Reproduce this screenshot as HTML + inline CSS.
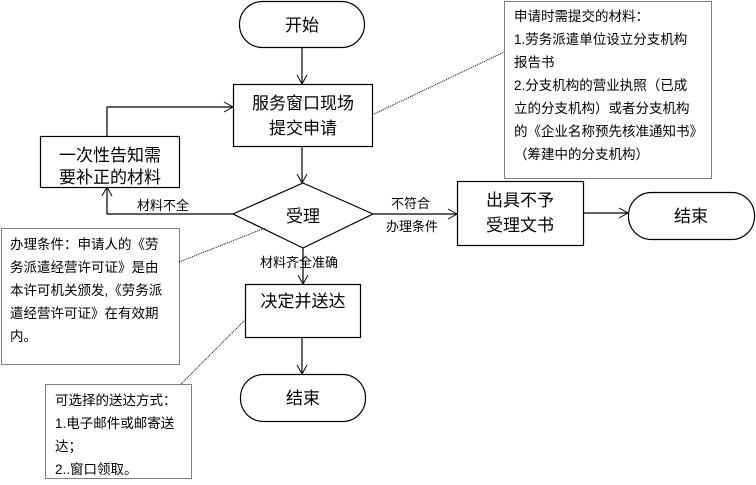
<!DOCTYPE html>
<html><head><meta charset="utf-8"><style>
body{margin:0;background:#fff}
svg text{font-family:"Liberation Sans","Noto Sans CJK SC","WenQuanYi Zen Hei",sans-serif;fill:#000}
</style></head><body>
<svg width="756" height="480" viewBox="0 0 756 480" xmlns="http://www.w3.org/2000/svg">
<defs><marker id="a" markerWidth="12" markerHeight="12" refX="10" refY="6" orient="auto" markerUnits="userSpaceOnUse"><path d="M1,1 L10,6 L1,11" fill="none" stroke="#000" stroke-width="1"/></marker></defs>
<g fill="none" stroke="#000" stroke-width="1.2">
<rect x="239.5" y="1.5" width="125" height="46" rx="23"/>
<rect x="233.5" y="84.5" width="139" height="62"/>
<rect x="40.5" y="136.5" width="139" height="51"/>
<polygon points="303,183 373,214 303,248 233,214"/>
<rect x="457.5" y="181.5" width="126" height="64"/>
<rect x="628.5" y="192.5" width="126" height="47" rx="23"/>
<rect x="245.5" y="284.5" width="115" height="53"/>
<rect x="240.5" y="374.5" width="125" height="47" rx="23"/>
<path d="M302,47 V84" marker-end="url(#a)"/>
<path d="M302,146 V183" marker-end="url(#a)"/>
<path d="M233,214 H107 V187" marker-end="url(#a)"/>
<path d="M107,136 V107 H233" marker-end="url(#a)"/>
<path d="M373,214 H457" marker-end="url(#a)"/>
<path d="M583,213 H628" marker-end="url(#a)"/>
<path d="M303,248 V284" marker-end="url(#a)"/>
<path d="M302,337 V374" marker-end="url(#a)"/>
</g>
<g fill="none" stroke="#000" stroke-width="1" stroke-dasharray="1,1">
<rect x="504.5" y="1.5" width="207" height="177"/>
<rect x="1.5" y="228.5" width="178" height="136"/>
<rect x="45.5" y="384.5" width="146" height="94"/>
<path d="M372,115 L504,52"/>
<path d="M179,262 L265,228"/>
<path d="M181,384 L245,320"/>
</g>
<g font-size="17" text-anchor="middle">
<text x="302" y="31">开始</text>
<text x="303" y="109">服务窗口现场</text>
<text x="303" y="134">提交申请</text>
<text x="110" y="161">一次性告知需</text>
<text x="110" y="183">要补正的材料</text>
<text x="303" y="222">受理</text>
<text x="520" y="206">出具不予</text>
<text x="520" y="231">受理文书</text>
<text x="691" y="222">结束</text>
<text x="303" y="307">决定并送达</text>
<text x="303" y="404">结束</text>
</g>
<g font-size="13">
<text x="137" y="210">材料不全</text>
<text x="391" y="208">不符合</text>
<text x="386" y="231">办理条件</text>
<text x="260" y="267">材料齐全准确</text>
</g>
<g font-size="13.5">
<text x="514" y="21">申请时需提交的材料：</text>
<text x="514" y="44">1.劳务派遣单位设立分支机构</text>
<text x="514" y="67">报告书</text>
<text x="514" y="90">2.分支机构的营业执照（已成</text>
<text x="514" y="113">立的分支机构）或者分支机构</text>
<text x="514" y="136">的《企业名称预先核准通知书》</text>
<text x="514" y="159">（筹建中的分支机构）</text>
<text x="10" y="249">办理条件：申请人的《劳</text>
<text x="10" y="272">务派遣经营许可证》是由</text>
<text x="10" y="295">本许可机关颁发,《劳务派</text>
<text x="10" y="318">遣经营许可证》在有效期</text>
<text x="10" y="341">内。</text>
<text x="55" y="405">可选择的送达方式：</text>
<text x="55" y="428">1.电子邮件或邮寄送</text>
<text x="55" y="451">达；</text>
<text x="55" y="474">2..窗口领取。</text>
</g>
</svg>
</body></html>
